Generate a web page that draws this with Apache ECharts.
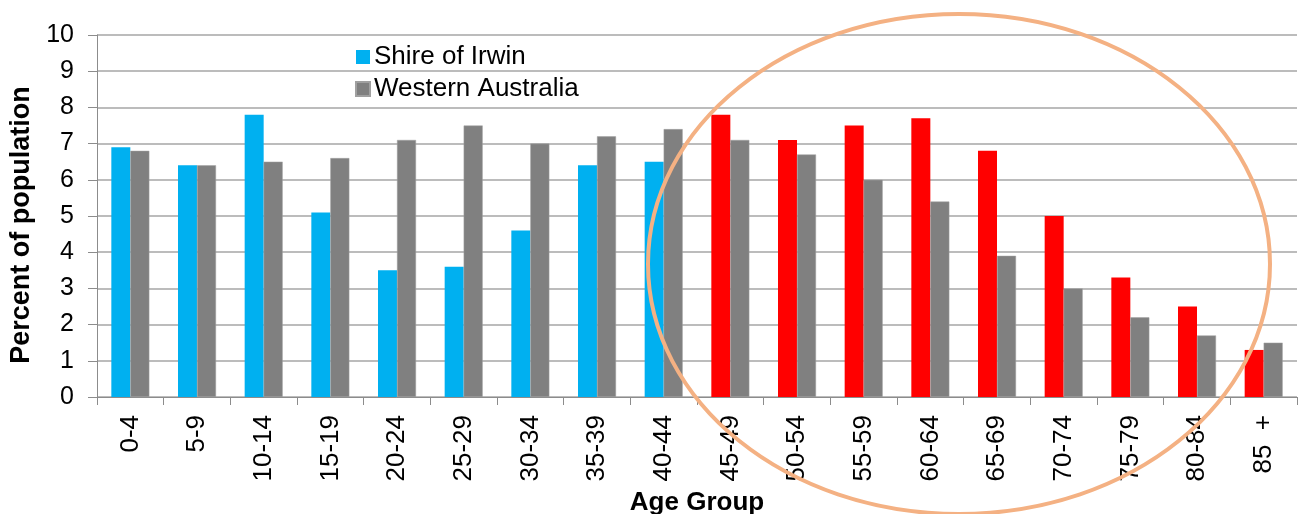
<!DOCTYPE html>
<html>
<head>
<meta charset="utf-8">
<script src="https://cdn.jsdelivr.net/npm/echarts@6/dist/echarts.min.js"></script>
<style>
html,body{margin:0;padding:0;background:#fff;}
#chart{width:1298px;height:514px;}
</style>
</head>
<body>
<div id="chart"></div>
<script>
const categories = ['0-4','5-9','10-14','15-19','20-24','25-29','30-34','35-39','40-44','45-49','50-54','55-59','60-64','65-69','70-74','75-79','80-84','85  +'];
const shireValues = [6.9,6.4,7.8,5.1,3.5,3.6,4.6,6.4,6.5,7.8,7.1,7.5,7.7,6.8,5.0,3.3,2.5,1.3];
const waValues = [6.8,6.4,6.5,6.6,7.1,7.5,7.0,7.2,7.4,7.1,6.7,6.0,5.4,3.9,3.0,2.2,1.7,1.5];
const highlightFrom = 9; // 45-49 onward shown in red
const yTicks = [0,1,2,3,4,5,6,7,8,9,10];

const chart = echarts.init(document.getElementById('chart'));
const font = '"Liberation Sans", Arial, sans-serif';
const option = {
  animation: false,
  textStyle: {fontFamily: font},
  grid: {left: 97, right: 1, top: 35, bottom: 117, outerBoundsMode: 'none', containLabel: false},
  legend: {
    orient: 'vertical',
    left: 350, top: 39,
    itemWidth: 14, itemHeight: 14, itemGap: 6,
    icon: 'rect',
    textStyle: {fontSize: 26, color: '#000', fontFamily: font, padding: [0,0,0,-1]},
    data: ['Shire of Irwin','Western Australia']
  },
  xAxis: {
    type: 'category',
    data: categories,
    name: 'Age Group',
    nameLocation: 'middle',
    nameGap: 93,
    nameTextStyle: {fontSize: 26, fontWeight: 'bold', color: '#000', fontFamily: font},
    axisLine: {lineStyle: {color: '#8c8c8c', width: 1}},
    axisTick: {show: true, length: 8, lineStyle: {color: '#8c8c8c'}},
    axisLabel: {rotate: 90, fontSize: 26, color: '#000', margin: 18, fontFamily: font, interval: 0}
  },
  yAxis: {
    type: 'value',
    min: 0, max: 10, interval: 1,
    name: 'Percent of population',
    nameLocation: 'middle',
    nameGap: 62,
    nameTextStyle: {fontSize: 27, fontWeight: 'bold', color: '#000', fontFamily: font, padding: [0, 18, 0, 0]},
    axisLine: {show: true, lineStyle: {color: '#8c8c8c', width: 1}},
    axisTick: {show: true, length: 9, lineStyle: {color: '#8c8c8c'}},
    splitLine: {lineStyle: {color: '#a6a6a6', width: 1.5}},
    axisLabel: {fontSize: 25, color: '#000', margin: 23, fontFamily: font,
      formatter: v => yTicks.includes(v) ? String(v) : ''}
  },
  series: [
    {
      name: 'Shire of Irwin',
      type: 'bar',
      barWidth: 19,
      barGap: '0%',
      itemStyle: {color: '#00B0F0'},
      data: shireValues.map((v, i) => i >= highlightFrom ? {value: v, itemStyle: {color: '#FF0000'}} : v)
    },
    {
      name: 'Western Australia',
      type: 'bar',
      barWidth: 19,
      barGap: '0%',
      itemStyle: {color: '#808080', borderColor: '#a0a0a0', borderWidth: 0.5},
      data: waValues
    }
  ],
  graphic: [{
    type: 'ellipse',
    z: 100,
    shape: {cx: 959, cy: 264, rx: 311, ry: 250},
    style: {fill: 'none', stroke: '#F4B183', lineWidth: 4}
  }]
};
chart.setOption(option);
</script>
</body>
</html>
